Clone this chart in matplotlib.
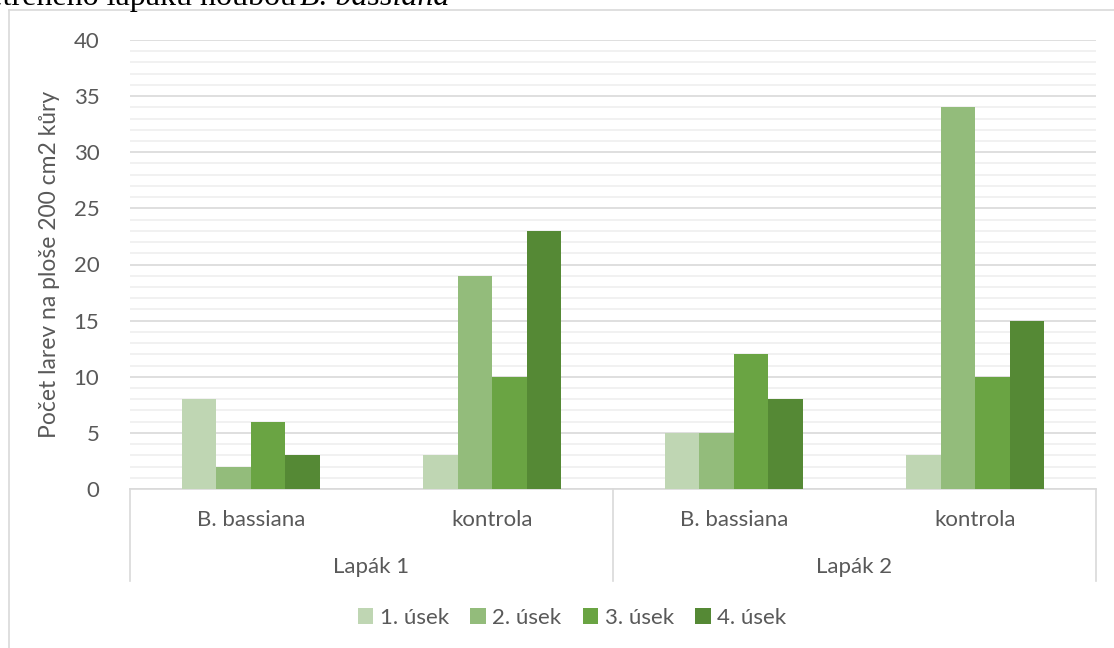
import matplotlib.pyplot as plt
import numpy as np
from matplotlib.lines import Line2D

# data
groups = ['Lapák 1', 'Lapák 2']
categories = ['B. bassiana', 'kontrola', 'B. bassiana', 'kontrola']
series = ['1. úsek', '2. úsek', '3. úsek', '4. úsek']
usek1 = [8, 3, 5, 3]
usek2 = [2, 19, 5, 34]
usek3 = [6, 10, 12, 10]
usek4 = [3, 23, 8, 15]
colors = ['#BFD6B3', '#93BC7B', '#6AA443', '#558935']

W, H = 1114, 648
txt = '#595959'
plt.rcParams['font.family'] = ['Lato', 'DejaVu Sans']

fig = plt.figure(figsize=(W / 100, H / 100), dpi=100)
ax = fig.add_axes([130 / W, 1 - 489 / H, 966 / W, 449 / H])

x = np.arange(len(categories))
w = 1 / 7
handles = []
for i, vals in enumerate([usek1, usek2, usek3, usek4]):
    b = ax.bar(x + (i - 1.5) * w, vals, w, color=colors[i], label=series[i], zorder=3)
    handles.append(b)

ax.set_xlim(-0.5, 3.5)
ax.set_ylim(0, 40)
ax.set_yticks(range(0, 41, 5))
ax.set_yticks(range(0, 41, 1), minor=True)
ax.grid(which='major', axis='y', color='#D9D9D9', lw=1.2, zorder=1)
ax.grid(which='minor', axis='y', color='#EFEFEF', lw=1.2, zorder=0)
ax.tick_params(axis='y', which='both', length=0, pad=22, labelsize=16, labelcolor=txt)
ax.set_xticks([])
for s in ['top', 'right', 'left']:
    ax.spines[s].set_visible(False)
ax.spines['bottom'].set_color('#D9D9D9')
ax.spines['bottom'].set_linewidth(1.2)

ax.set_ylabel('Počet larev na ploše 200 cm2 kůry', fontsize=16.5, color=txt, labelpad=10)

# multi level category axis
tr = ax.get_xaxis_transform()
for i, c in enumerate(categories):
    ax.text(x[i], -31 / 449, c, transform=tr, ha='center', va='center', fontsize=16, color=txt)
for j, g in enumerate(groups):
    ax.text(0.5 + 2 * j, -78 / 449, g, transform=tr, ha='center', va='center', fontsize=16, color=txt)
for xv in [-0.5, 1.5, 3.5]:
    ax.plot([xv, xv], [0, -92 / 449], transform=tr, color='#D9D9D9', lw=1.2, clip_on=False)

fig.legend(handles=handles, labels=series, loc='center', bbox_to_anchor=(572 / W, 1 - 618 / H),
           ncol=4, frameon=False, fontsize=16, handlelength=0.7, handleheight=0.7,
           handletextpad=0.3, columnspacing=0.95, labelcolor=txt)

# chart border
fig.add_artist(Line2D([9 / W, 9 / W], [0, 1 - 10 / H], color='#D9D9D9', lw=1.2))
fig.add_artist(Line2D([9 / W, 1], [1 - 10 / H, 1 - 10 / H], color='#D9D9D9', lw=1.2))

# cut-off caption above the chart
fig.text(296 / W, 1 - 5 / H, 'ošetřeného lapáku houbou', ha='right', va='baseline',
         fontsize=23, family='Liberation Serif', color='black')
fig.text(300 / W, 1 - 5 / H, 'B. bassiana', ha='left', va='baseline',
         fontsize=23, family='Liberation Serif', style='italic', color='black')

fig.savefig('out.png', dpi=100)
